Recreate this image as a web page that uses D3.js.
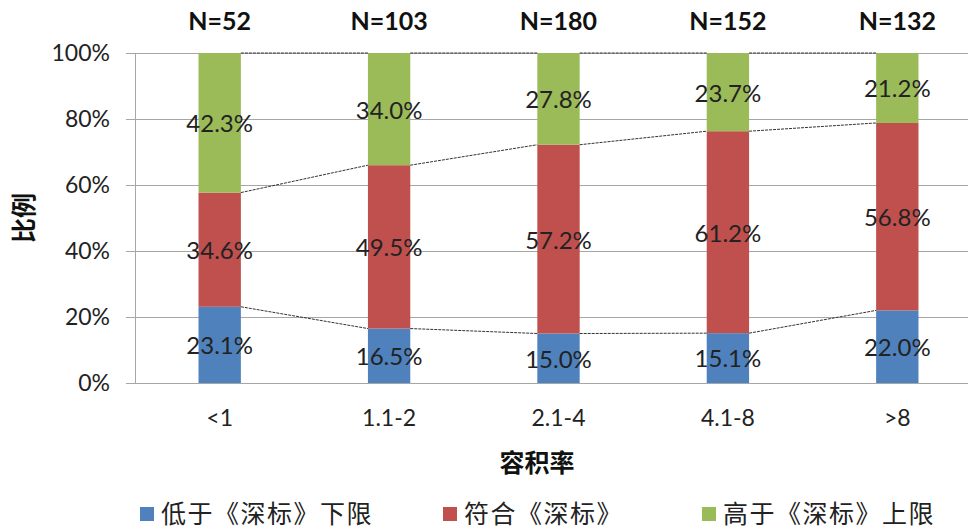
<!DOCTYPE html>
<html>
<head>
<meta charset="utf-8">
<script src="https://cdn.jsdelivr.net/npm/d3@7"></script>
<style>
  body{margin:0;background:#fff;}
  svg{display:block;font-family:Lato,"Noto Sans CJK SC",sans-serif;}
</style>
</head>
<body>
<svg id="chart" width="971" height="529"></svg>
<script>
const categories=["<1","1.1-2","2.1-4","4.1-8",">8"];
const counts=[52,103,180,152,132];
const seriesNames=["低于《深标》下限","符合《深标》","高于《深标》上限"];
const below=[23.1,16.5,15.0,15.1,22.0];
const within=[34.6,49.5,57.2,61.2,56.8];
const above=[42.3,34.0,27.8,23.7,21.2];
const yTicks=[0,20,40,60,80,100];
const colors=["#4F81BD","#C0504D","#9BBB59"];

const svg=d3.select("#chart");
const pLeft=135,pRight=982,pTop=53,pBottom=383;

const x=d3.scaleBand().domain(categories).range([pLeft,pRight]).paddingInner(0.75).paddingOuter(0.375);
const y=d3.scaleLinear().domain([0,100]).range([pBottom,pTop]);

const rows=categories.map((c,i)=>({cat:c,n:counts[i],v:[below[i],within[i],above[i]]}));
const stacked=d3.stack().keys([0,1,2]).value((d,k)=>d.v[k])(rows);

// gridlines
svg.append("g").selectAll("line").data(yTicks).join("line")
  .attr("x1",pLeft-9).attr("x2",968)
  .attr("y1",d=>y(d)+0.5).attr("y2",d=>y(d)+0.5)
  .attr("stroke","#a6a6a6").attr("stroke-width",1);
svg.append("line").attr("x1",pLeft+0.5).attr("x2",pLeft+0.5).attr("y1",pTop).attr("y2",pBottom)
  .attr("stroke","#a6a6a6");

svg.append("g").selectAll("text").data(yTicks).join("text")
  .attr("x",110).attr("y",d=>y(d)).attr("dy","0.35em").attr("text-anchor","end")
  .attr("font-size",23).attr("fill","#222").text(d=>d+"%");

// bars
svg.append("g").selectAll("g").data(stacked).join("g")
  .attr("fill",(d,i)=>colors[i])
  .selectAll("rect").data(d=>d).join("rect")
  .attr("x",d=>x(d.data.cat)).attr("width",x.bandwidth())
  .attr("y",d=>y(d[1])).attr("height",d=>y(d[0])-y(d[1]));

// series lines between bars
const line=d3.line();
stacked.forEach(s=>{
  for(let i=0;i<s.length-1;i++){
    svg.append("path")
      .attr("d",line([[x(categories[i])+x.bandwidth(),y(s[i][1])],[x(categories[i+1]),y(s[i+1][1])]]))
      .attr("stroke","#333").attr("stroke-width",1).attr("stroke-dasharray","3,1").attr("fill","none");
  }
});

// data labels
svg.append("g").selectAll("g").data(stacked).join("g")
  .selectAll("text").data(d=>d).join("text")
  .attr("x",d=>x(d.data.cat)+x.bandwidth()/2)
  .attr("y",d=>y((d[0]+d[1])/2)+1).attr("dy","0.35em")
  .attr("text-anchor","middle").attr("font-size",24).attr("fill","#222")
  .text(d=>(d[1]-d[0]).toFixed(1)+"%");

// N labels
svg.append("g").selectAll("text").data(rows).join("text")
  .attr("x",d=>x(d.cat)+x.bandwidth()/2).attr("y",21).attr("dy","0.35em")
  .attr("text-anchor","middle").attr("font-size",25).attr("font-weight","bold").attr("fill","#111")
  .text(d=>"N="+d.n);

// x labels
svg.append("g").selectAll("text").data(categories).join("text")
  .attr("x",d=>x(d)+x.bandwidth()/2).attr("y",418).attr("dy","0.35em")
  .attr("text-anchor","middle").attr("font-size",23).attr("fill","#222").text(d=>d);

svg.append("text").attr("x",537).attr("y",463).attr("dy","0.35em").attr("text-anchor","middle")
  .attr("font-size",25).attr("font-weight","bold").attr("fill","#111").text("容积率");
svg.append("text").attr("transform","translate(24,218) rotate(-90)").attr("dy","0.35em")
  .attr("text-anchor","middle").attr("font-size",25).attr("font-weight","bold").attr("fill","#111").text("比例");

// legend
const legX=[140,443,702];
const leg=svg.append("g").selectAll("g").data(seriesNames).join("g")
  .attr("transform",(d,i)=>`translate(${legX[i]},514)`);
leg.append("rect").attr("x",0).attr("y",-7).attr("width",14).attr("height",14).attr("fill",(d,i)=>colors[i]);
leg.append("text").attr("x",21).attr("dy","0.35em").attr("font-size",25).attr("letter-spacing",1.5)
  .attr("fill","#222").text(d=>d);
</script>
</body>
</html>
